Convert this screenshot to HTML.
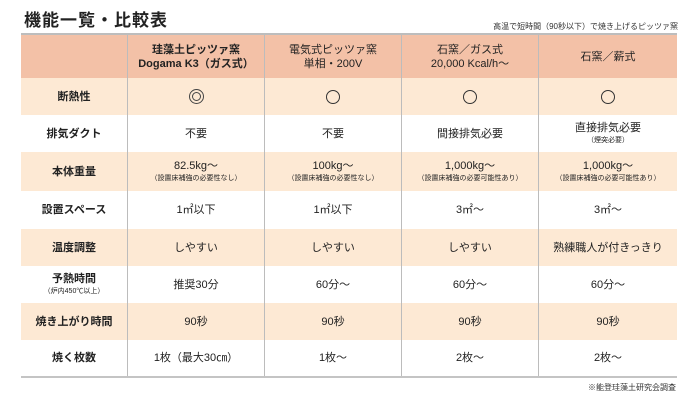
<!DOCTYPE html>
<html><head><meta charset="utf-8">
<style>
*{margin:0;padding:0;box-sizing:border-box}
body{width:700px;height:401px;background:#fff;font-family:"Liberation Sans","Noto Sans CJK JP",sans-serif;color:#222;position:relative;overflow:hidden}
#title{position:absolute;left:24px;top:6px;font-size:17px;font-weight:bold;letter-spacing:1px;color:#222}
#sub{position:absolute;right:22px;top:21px;font-size:8px;color:#333}
#foot{position:absolute;right:24px;top:382px;font-size:8px;color:#333}
#tbl{position:absolute;left:21px;top:33px;width:656px;border-top:2px solid #bdbdbd;border-bottom:2px solid #c4c4c4}
.row{display:flex;width:656px}
.cell{display:flex;flex-direction:column;align-items:center;justify-content:center;text-align:center;font-size:11px;line-height:14px;border-left:1px solid #bcbcbc}
.cell:first-child{border-left:none;width:106px}
.c1{width:137px}.c2{width:137px}.c3{width:137px}.c4{width:139px}
.hd{background:#f3c1a7;font-weight:bold;font-size:11px;line-height:15px}
.bg{background:#fde9d4}
.note{font-size:7px;line-height:10px;margin-top:1px}
.lab{font-weight:bold}
.circ{display:block;width:14px;height:14px;border:1.3px solid #333;border-radius:50%}
.dbl{display:flex;align-items:center;justify-content:center;width:15px;height:15px;border:1.2px solid #444;border-radius:50%}
.dbl span{display:block;width:9px;height:9px;border:1.2px solid #444;border-radius:50%}
</style></head><body>
<div id="title">機能一覧・比較表</div>
<div id="sub">高温で短時間（90秒以下）で焼き上げるピッツァ窯</div>
<div id="tbl">
 <div class="row hd" style="height:43px">
  <div class="cell"></div>
  <div class="cell c1">珪藻土ピッツァ窯<br>Dogama K3（ガス式）</div>
  <div class="cell c2" style="font-weight:normal">電気式ピッツァ窯<br>単相・200V</div>
  <div class="cell c3" style="font-weight:normal">石窯／ガス式<br>20,000 Kcal/h～</div>
  <div class="cell c4" style="font-weight:normal">石窯／薪式</div>
 </div>
 <div class="row bg" style="height:37px">
  <div class="cell lab">断熱性</div>
  <div class="cell c1"><span class="dbl"><span></span></span></div>
  <div class="cell c2"><span class="circ"></span></div>
  <div class="cell c3"><span class="circ"></span></div>
  <div class="cell c4"><span class="circ"></span></div>
 </div>
 <div class="row" style="height:37px">
  <div class="cell lab">排気ダクト</div>
  <div class="cell c1">不要</div>
  <div class="cell c2">不要</div>
  <div class="cell c3">間接排気必要</div>
  <div class="cell c4">直接排気必要<span class="note">（煙突必要）</span></div>
 </div>
 <div class="row bg" style="height:39px">
  <div class="cell lab">本体重量</div>
  <div class="cell c1">82.5kg～<span class="note">（設置床補強の必要性なし）</span></div>
  <div class="cell c2">100kg～<span class="note">（設置床補強の必要性なし）</span></div>
  <div class="cell c3">1,000kg～<span class="note">（設置床補強の必要可能性あり）</span></div>
  <div class="cell c4">1,000kg～<span class="note">（設置床補強の必要可能性あり）</span></div>
 </div>
 <div class="row" style="height:38px">
  <div class="cell lab">設置スペース</div>
  <div class="cell c1">1㎡以下</div>
  <div class="cell c2">1㎡以下</div>
  <div class="cell c3">3㎡～</div>
  <div class="cell c4">3㎡～</div>
 </div>
 <div class="row bg" style="height:37px">
  <div class="cell lab">温度調整</div>
  <div class="cell c1">しやすい</div>
  <div class="cell c2">しやすい</div>
  <div class="cell c3">しやすい</div>
  <div class="cell c4">熟練職人が付きっきり</div>
 </div>
 <div class="row" style="height:37px">
  <div class="cell lab">予熱時間<span class="note" style="font-weight:normal">（炉内450℃以上）</span></div>
  <div class="cell c1">推奨30分</div>
  <div class="cell c2">60分～</div>
  <div class="cell c3">60分～</div>
  <div class="cell c4">60分～</div>
 </div>
 <div class="row bg" style="height:37px">
  <div class="cell lab">焼き上がり時間</div>
  <div class="cell c1">90秒</div>
  <div class="cell c2">90秒</div>
  <div class="cell c3">90秒</div>
  <div class="cell c4">90秒</div>
 </div>
 <div class="row" style="height:36px">
  <div class="cell lab">焼く枚数</div>
  <div class="cell c1">1枚（最大30㎝）</div>
  <div class="cell c2">1枚～</div>
  <div class="cell c3">2枚～</div>
  <div class="cell c4">2枚～</div>
 </div>
</div>
<div id="foot">※能登珪藻土研究会調査</div>
</body></html>
